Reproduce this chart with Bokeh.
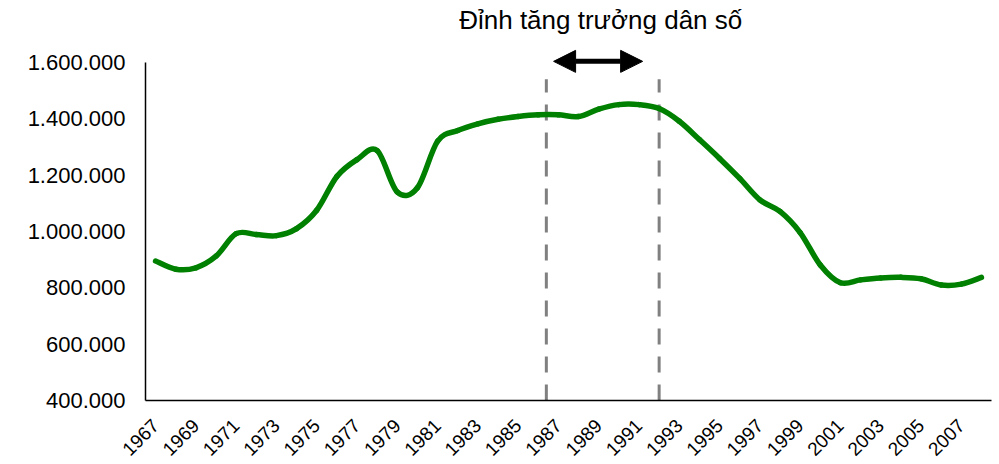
import math
from bokeh.plotting import figure
from bokeh.models import FixedTicker, Range1d, Label, Arrow, NormalHead, ColumnDataSource
from bokeh.embed import file_html
from bokeh.resources import INLINE

# ---- data ----
years = list(range(1967, 2009))
population = [895000, 866000, 871000, 912000, 992000, 989000, 985000, 1010000,
              1075000, 1195000, 1255000, 1287000, 1140000, 1155000, 1320000,
              1358000, 1382000, 1398000, 1408000, 1414000, 1414000, 1408000,
              1434000, 1450000, 1450000, 1436000, 1391000, 1326000, 1259000,
              1188000, 1112000, 1071000, 996000, 881000, 818000, 828000,
              835000, 837000, 832000, 810000, 813000, 837000]
x_ticks = list(range(1967, 2008, 2))
x_tick_labels = [str(y) for y in x_ticks]
y_ticks = [400000, 600000, 800000, 1000000, 1200000, 1400000, 1600000]
y_tick_labels = ["400.000", "600.000", "800.000", "1.000.000", "1.200.000", "1.400.000", "1.600.000"]
peak_period = [1986.4, 1992.0]
title_text = "Đỉnh tăng trưởng dân số"

FONT = "Liberation Sans"

# frame spans the full top area so the annotation above the axis is not clipped
p = figure(width=999, height=464, output_backend="svg", toolbar_location=None,
           x_range=Range1d(1966.5, 2008.5), y_range=Range1d(400000, 1819500),
           min_border_left=145, min_border_top=0, min_border_right=8, min_border_bottom=63)
p.outline_line_color = None
p.xgrid.visible = False
p.ygrid.visible = False
p.background_fill_color = "white"
p.border_fill_color = "white"

# axes
p.xaxis.ticker = FixedTicker(ticks=x_ticks)
p.xaxis.major_label_overrides = {t: l for t, l in zip(x_ticks, x_tick_labels)}
p.xaxis.major_label_orientation = math.pi / 4
p.xaxis.major_tick_out = 0
p.xaxis.major_tick_in = 0
p.xaxis.minor_tick_out = 0
p.xaxis.minor_tick_in = 0
p.xaxis.major_label_standoff = 22
p.xaxis.major_label_text_font = FONT
p.xaxis.major_label_text_font_size = "19px"
p.xaxis.major_label_text_color = "black"
p.xaxis.axis_line_color = "black"
p.xaxis.axis_line_width = 1.5

p.yaxis.ticker = FixedTicker(ticks=y_ticks)
p.yaxis.bounds = (y_ticks[0], y_ticks[-1])
p.yaxis.major_label_overrides = {t: l for t, l in zip(y_ticks, y_tick_labels)}
p.yaxis.major_tick_out = 0
p.yaxis.major_tick_in = 0
p.yaxis.minor_tick_out = 0
p.yaxis.minor_tick_in = 0
p.yaxis.major_label_standoff = 20
p.yaxis.major_label_text_font = FONT
p.yaxis.major_label_text_font_size = "22px"
p.yaxis.major_label_text_color = "black"
p.yaxis.axis_line_color = "black"
p.yaxis.axis_line_width = 1.5

# dashed peak lines
p.segment(x0=peak_period, x1=peak_period, y0=[400000] * 2, y1=[1540000] * 2,
          line_color="#808080", line_width=3, line_dash="16 12")

# smoothed line (Catmull-Rom -> cubic Bezier segments from the data points)
n = len(years)
def pt(i):
    i = max(0, min(n - 1, i))
    return years[i], population[i]
x0, y0, x1, y1, cx0, cy0, cx1, cy1 = [], [], [], [], [], [], [], []
for i in range(n - 1):
    pa, pb, pc, pd = pt(i - 1), pt(i), pt(i + 1), pt(i + 2)
    x0.append(pb[0]); y0.append(pb[1]); x1.append(pc[0]); y1.append(pc[1])
    cx0.append(pb[0] + (pc[0] - pa[0]) / 6.0); cy0.append(pb[1] + (pc[1] - pa[1]) / 6.0)
    cx1.append(pc[0] - (pd[0] - pb[0]) / 6.0); cy1.append(pc[1] - (pd[1] - pb[1]) / 6.0)
src = ColumnDataSource(dict(x0=x0, y0=y0, x1=x1, y1=y1, cx0=cx0, cy0=cy0, cx1=cx1, cy1=cy1))
p.bezier(x0="x0", y0="y0", x1="x1", y1="y1", cx0="cx0", cy0="cy0", cx1="cx1", cy1="cy1",
         source=src, line_color="#008000", line_width=5.5, line_cap="round")

# double arrow
p.add_layout(Arrow(x_start=1986.76, y_start=1603500, x_end=1991.18, y_end=1603500,
                   line_width=5, line_color="black",
                   start=NormalHead(size=22, fill_color="black", line_color="black"),
                   end=NormalHead(size=22, fill_color="black", line_color="black")))

# title text
p.add_layout(Label(x=1989.1, y=1748700, text=title_text, text_align="center",
                   text_baseline="middle", text_font=FONT, text_font_size="26px",
                   text_color="black"))

open("out.html", "w").write(file_html(p, INLINE))
